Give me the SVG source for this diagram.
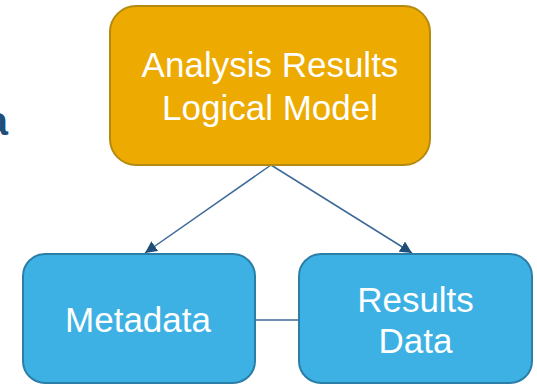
<svg xmlns="http://www.w3.org/2000/svg" width="537" height="385" viewBox="0 0 537 385">
  <style>
    .lbl { font-family: "Liberation Sans", Arial, sans-serif; font-size: 35px; fill: #ffffff; text-anchor: middle; }
    .top { fill: #EDAA00; stroke: #B58A10; stroke-width: 2; }
    .leaf { fill: #3DB1E3; stroke: #2A7EA8; stroke-width: 2; }
    .edge { stroke: #3D6A99; stroke-width: 1.5; fill: none; }
  </style>
  <defs>
    <marker id="arrow" viewBox="0 0 10 10" refX="10" refY="5" markerWidth="12" markerHeight="12" markerUnits="userSpaceOnUse" orient="auto">
      <path d="M0,0 L10,5 L0,10 z" fill="#1F4E79"/>
    </marker>
  </defs>
  <rect width="537" height="385" fill="#ffffff"/>
  <text x="8" y="135" font-family="'Liberation Sans', Arial, sans-serif" font-size="40" font-weight="bold" fill="#1F4E79" text-anchor="end">a</text>
  <g id="connectors">
    <line class="edge" x1="271" y1="165" x2="145" y2="253" marker-end="url(#arrow)"/>
    <line class="edge" x1="271" y1="165" x2="412" y2="253" marker-end="url(#arrow)"/>
    <line class="edge" x1="255" y1="320" x2="299" y2="320" stroke="#1F4E79"/>
  </g>
  <g id="analysis-results-logical-model">
    <rect class="top" x="110" y="6" width="320" height="159" rx="26"/>
    <text class="lbl" x="270" y="77">Analysis Results</text>
    <text class="lbl" x="270" y="120">Logical Model</text>
  </g>
  <g id="metadata">
    <rect class="leaf" x="23" y="254" width="232" height="129" rx="22"/>
    <text class="lbl" x="138" y="332">Metadata</text>
  </g>
  <g id="results-data">
    <rect class="leaf" x="299" y="254" width="233" height="129" rx="22"/>
    <text class="lbl" x="415.5" y="312">Results</text>
    <text class="lbl" x="415.5" y="353">Data</text>
  </g>
</svg>
